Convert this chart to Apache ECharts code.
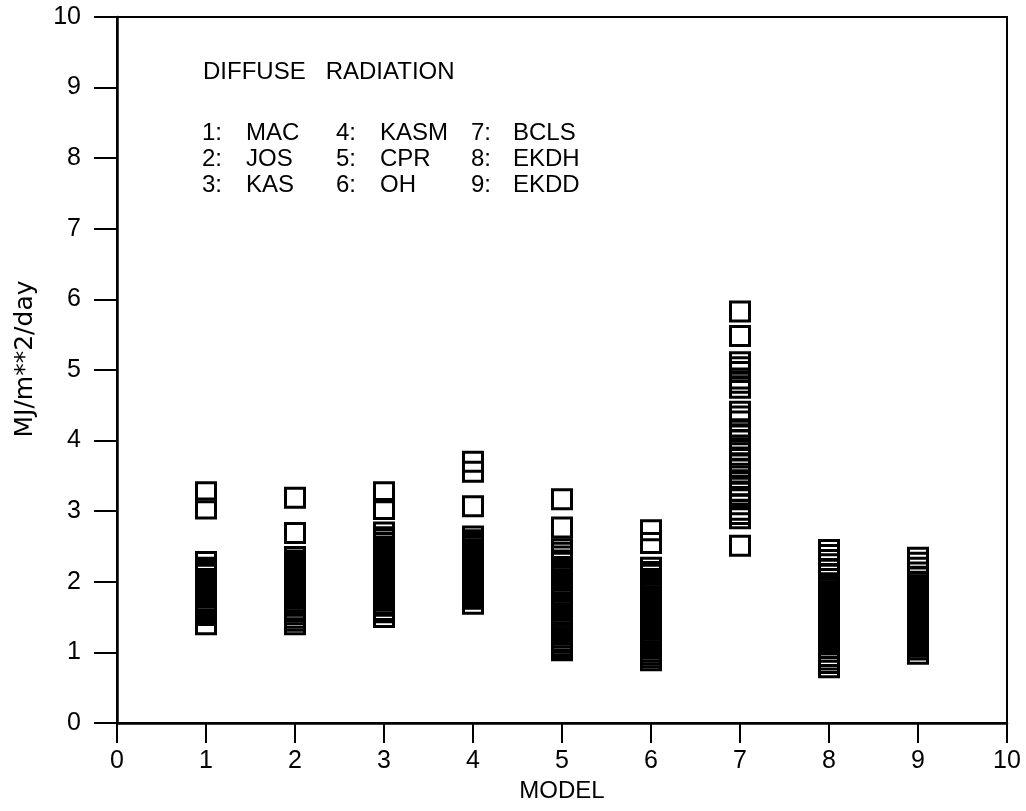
<!DOCTYPE html>
<html>
<head>
<meta charset="utf-8">
<title>Diffuse radiation by model</title>
<script src="https://cdn.jsdelivr.net/npm/echarts@6/dist/echarts.min.js"></script>
<style>
  html, body { margin: 0; padding: 0; background: #fff; }
  #chart { width: 1026px; height: 811px; }
</style>
</head>
<body>
<div id="chart"></div>
<script>
// Daily diffuse radiation estimates (MJ/m**2/day) for each model
const modelNames = ['MAC', 'JOS', 'KAS', 'KASM', 'CPR', 'OH', 'BCLS', 'EKDH', 'EKDD'];
const xTicks = [0, 1, 2, 3, 4, 5, 6, 7, 8, 9, 10];
const yTicks = [0, 1, 2, 3, 4, 5, 6, 7, 8, 9, 10];

const mac  = [3.27, 3.04, 2.28, 2.20, 2.18, 2.14, 2.12, 2.10, 2.04, 2.02, 1.99, 1.97, 1.94, 1.92, 1.90, 1.88,
              1.85, 1.82, 1.80, 1.78, 1.74, 1.72, 1.70, 1.66, 1.64, 1.60, 1.57, 1.53, 1.40];
const jos  = [3.19, 2.69, 2.35, 2.30, 2.28, 2.24, 2.22, 2.20, 2.17, 2.15, 2.12, 2.08, 2.06, 2.04, 2.01, 1.98,
              1.96, 1.92, 1.90, 1.88, 1.85, 1.82, 1.79, 1.77, 1.72, 1.70, 1.66, 1.61, 1.58, 1.54, 1.49, 1.45, 1.40];
const kas  = [3.27, 3.03, 2.70, 2.63, 2.60, 2.55, 2.50, 2.48, 2.44, 2.41, 2.39, 2.36, 2.33, 2.31, 2.28, 2.25,
              2.22, 2.20, 2.16, 2.14, 2.11, 2.08, 2.06, 2.02, 1.99, 1.97, 1.93, 1.90, 1.88, 1.84, 1.80, 1.77,
              1.73, 1.69, 1.66, 1.60, 1.57, 1.50];
const kasm = [3.70, 3.56, 3.07, 2.64, 2.59, 2.56, 2.52, 2.50, 2.46, 2.43, 2.41, 2.38, 2.35, 2.33, 2.30, 2.28,
              2.24, 2.22, 2.19, 2.16, 2.14, 2.10, 2.08, 2.04, 2.00, 1.98, 1.94, 1.90, 1.87, 1.83, 1.80, 1.76, 1.69];
const cpr  = [3.17, 2.77, 2.46, 2.41, 2.36, 2.30, 2.27, 2.21, 2.17, 2.11, 2.07, 2.03, 1.98, 1.95, 1.91, 1.87,
              1.82, 1.78, 1.75, 1.70, 1.66, 1.62, 1.59, 1.55, 1.52, 1.47, 1.44, 1.40, 1.36, 1.33, 1.28, 1.25,
              1.21, 1.17, 1.14, 1.10, 1.07, 1.05, 1.03];
const oh   = [2.73, 2.55, 2.20, 2.14, 2.10, 2.04, 2.01, 1.97, 1.93, 1.90, 1.86, 1.83, 1.79, 1.76, 1.72, 1.68,
              1.64, 1.61, 1.57, 1.53, 1.50, 1.46, 1.42, 1.39, 1.35, 1.32, 1.28, 1.24, 1.21, 1.17, 1.13, 1.09,
              1.05, 1.01, 0.97, 0.93, 0.89];
const bcls = [5.83, 5.48, 5.11, 5.04, 4.97, 4.88, 4.82, 4.75, 4.41, 4.34, 4.27, 4.16, 4.09, 4.01, 3.93, 3.86,
              3.76, 3.68, 3.60, 3.53, 3.44, 3.36, 3.28, 3.20, 3.10, 3.02, 2.96, 2.90, 2.51];
const ekdh = [2.45, 2.38, 2.31, 2.25, 2.17, 2.10, 2.04, 1.97, 1.93, 1.90, 1.86, 1.83, 1.80, 1.77, 1.74, 1.71,
              1.67, 1.64, 1.61, 1.58, 1.55, 1.52, 1.48, 1.45, 1.42, 1.38, 1.35, 1.32, 1.29, 1.26, 1.22, 1.19,
              1.16, 1.12, 1.07, 1.01, 0.95, 0.90, 0.85, 0.79];
const ekdd = [2.34, 2.27, 2.20, 2.13, 2.06, 1.99, 1.95, 1.92, 1.89, 1.86, 1.83, 1.80, 1.77, 1.74, 1.71, 1.68,
              1.65, 1.62, 1.59, 1.56, 1.53, 1.50, 1.47, 1.44, 1.41, 1.38, 1.35, 1.32, 1.29, 1.26, 1.23, 1.20,
              1.17, 1.14, 1.11, 1.08, 1.04, 0.98];

const modelValues = [mac, jos, kas, kasm, cpr, oh, bcls, ekdh, ekdd];

const FONT = '"Liberation Sans", Arial, sans-serif';

// Points: x = model number, y = value
const points = [];
modelValues.forEach((vals, i) => {
  vals.forEach(v => points.push([i + 1, v]));
});

// Title, model key and the rotated value-axis caption
const graphicEls = [{
  type: 'text', x: 203, y: 72,
  style: { text: 'DIFFUSE   RADIATION', font: '24px ' + FONT, fill: '#000',
           textAlign: 'left', textVerticalAlign: 'middle' }
}, {
  type: 'text', x: 25, y: 359, rotation: Math.PI / 2,
  style: { text: 'MJ/m**2/day', font: '25px "DejaVu Sans", sans-serif', fill: '#000',
           textAlign: 'center', textVerticalAlign: 'middle' }
}];
const keyCols = [[202, 246], [336, 380], [471, 513]];
const keyRows = [133, 159.5, 185.5];
modelNames.forEach((name, i) => {
  const col = Math.floor(i / 3), row = i % 3;
  graphicEls.push({
    type: 'text', x: keyCols[col][0], y: keyRows[row],
    style: { text: (i + 1) + ':', font: '24px ' + FONT, fill: '#000',
             textAlign: 'left', textVerticalAlign: 'middle' }
  });
  graphicEls.push({
    type: 'text', x: keyCols[col][1], y: keyRows[row],
    style: { text: name, font: '24px ' + FONT, fill: '#000',
             textAlign: 'left', textVerticalAlign: 'middle' }
  });
});

const chart = echarts.init(document.getElementById('chart'), null, { renderer: 'canvas' });
chart.setOption({
  animation: false,
  backgroundColor: '#fff',
  grid: {
    left: 117, right: 19, top: 17, bottom: 88,
    show: true, borderColor: '#000', borderWidth: 2, backgroundColor: 'transparent'
  },
  xAxis: {
    type: 'value', min: xTicks[0], max: xTicks[xTicks.length - 1], interval: 1,
    name: 'MODEL', nameLocation: 'middle', nameGap: 54,
    nameTextStyle: { fontFamily: FONT, fontSize: 24, color: '#000' },
    axisLine: { show: true, onZero: false, lineStyle: { color: '#000', width: 2.5 } },
    axisTick: { show: true, length: 20, lineStyle: { color: '#000', width: 2 } },
    axisLabel: { fontFamily: FONT, fontSize: 25, color: '#000', margin: 26,
                 formatter: v => xTicks.includes(v) ? String(v) : '' },
    splitLine: { show: false }
  },
  yAxis: {
    type: 'value', min: yTicks[0], max: yTicks[yTicks.length - 1], interval: 1,
    axisLine: { show: true, onZero: false, lineStyle: { color: '#000', width: 2.5 } },
    axisTick: { show: true, length: 23, lineStyle: { color: '#000', width: 2 } },
    axisLabel: { fontFamily: FONT, fontSize: 25, color: '#000', margin: 36,
                 formatter: v => yTicks.includes(v) ? String(v) : '' },
    splitLine: { show: false }
  },
  graphic: graphicEls,
  series: [{
    type: 'scatter',
    data: points,
    symbol: 'rect',
    symbolSize: 19,
    itemStyle: { color: 'rgba(0,0,0,0)', borderColor: '#000', borderWidth: 3, opacity: 1 },
    emphasis: { disabled: true },
    z: 3
  }]
});
</script>
</body>
</html>
